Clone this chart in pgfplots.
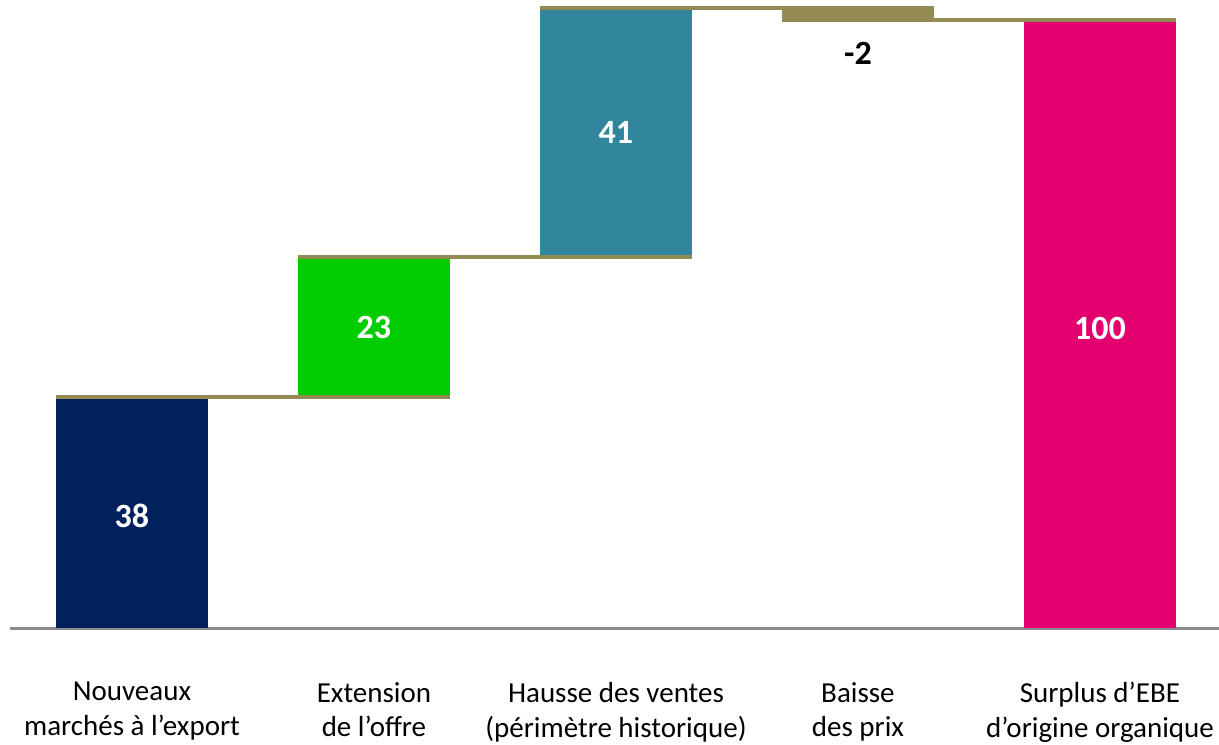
\documentclass[border=0pt]{standalone}
\usepackage{pgfplots}
\pgfplotsset{compat=1.18}
\usepackage{pgfplotstable}
\usepackage{fontspec}
\setmainfont{Carlito}
\definecolor{cNavy}{HTML}{00215B}
\definecolor{cGreen}{HTML}{00CC00}
\definecolor{cTeal}{HTML}{31859C}
\definecolor{cKhaki}{HTML}{948A54}
\definecolor{cMag}{HTML}{E3006F}
\definecolor{cAxis}{HTML}{8C8C8C}
\pgfplotstableread{
x base a b c d e
0 0   38 0  0  0 0
1 38  0  23 0  0 0
2 61  0  0  41 0 0
3 100 0  0  0  2 0
4 0   0  0  0  0 100
}\wf
\begin{document}
\begin{tikzpicture}
\useasboundingbox (-5pt,-58pt) rectangle (604.5pt,314pt);
\begin{axis}[
  scale only axis, width=604.5pt, height=314pt,
  xmin=-0.504, xmax=4.492, ymin=0, ymax=103.3,
  ybar stacked, bar width=0.628,
  axis x line=bottom, hide y axis,
  x axis line style={-, color=cAxis, line width=1.5pt},
  xtick={0,1,2,3,4}, xtick style={draw=none},
  xticklabels={{Nouveaux\\march\'es \`a l’export},{Extension\\de l’offre},{Hausse des ventes\\(p\'erim\`etre historique)},{Baisse\\des prix},{Surplus d’EBE\\d’origine organique}},
  xticklabel style={align=center, font=\fontsize{14.5pt}{17.3pt}\selectfont, yshift=-21.5pt},
  clip=false,
]
\addplot[draw=none, fill=none] table[x=x, y=base] {\wf};
\addplot[draw=none, fill=cNavy] table[x=x, y=a] {\wf};
\addplot[draw=none, fill=cGreen] table[x=x, y=b] {\wf};
\addplot[draw=none, fill=cTeal] table[x=x, y=c] {\wf};
\addplot[draw=none, fill=cKhaki] table[x=x, y=d] {\wf};
\addplot[draw=none, fill=cMag] table[x=x, y=e] {\wf};
\end{axis}
\begin{axis}[
  scale only axis, width=604.5pt, height=314pt,
  xmin=-0.504, xmax=4.492, ymin=0, ymax=103.3,
  axis lines=none, clip=false,
]
\addplot[cKhaki, line width=2pt] coordinates {(-0.314,38) (1.314,38)};
\addplot[cKhaki, line width=2pt] coordinates {(0.686,61) (2.314,61)};
\addplot[cKhaki, line width=2pt] coordinates {(1.686,102) (3.314,102)};
\addplot[cKhaki, line width=2pt] coordinates {(2.686,100) (4.314,100)};
\node[white, font=\fontsize{17pt}{20pt}\selectfont\bfseries] at (axis cs:0,18.5) {38};
\node[white, font=\fontsize{17pt}{20pt}\selectfont\bfseries] at (axis cs:1,49.5) {23};
\node[white, font=\fontsize{17pt}{20pt}\selectfont\bfseries] at (axis cs:2,81.5) {41};
\node[black, font=\fontsize{17pt}{20pt}\selectfont\bfseries] at (axis cs:3,94.5) {-2};
\node[white, font=\fontsize{17pt}{20pt}\selectfont\bfseries] at (axis cs:4,49.3) {100};
\end{axis}
\end{tikzpicture}
\end{document}
